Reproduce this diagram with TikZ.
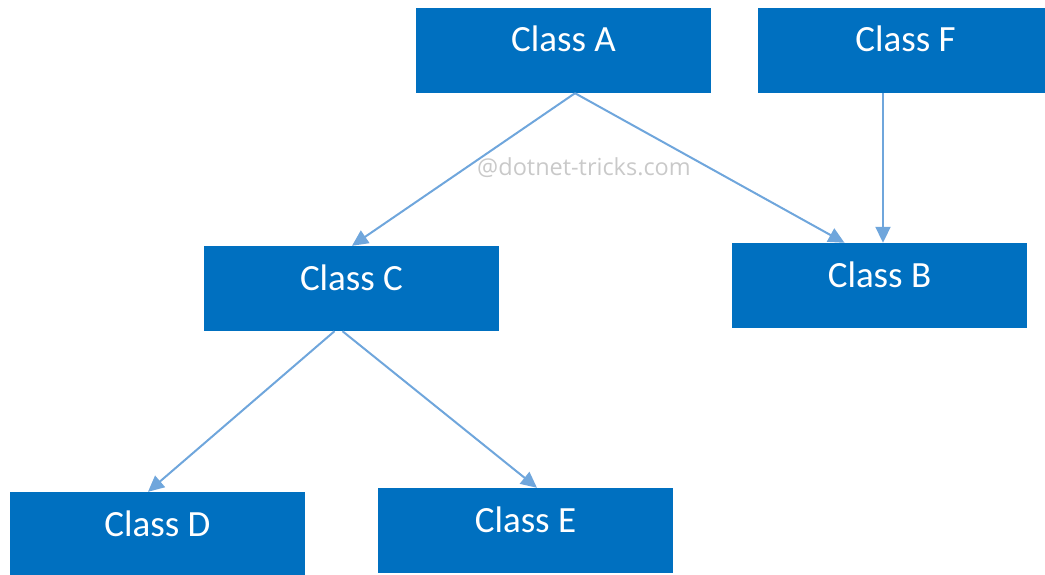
\documentclass[tikz,border=0pt]{standalone}
\usepackage{fontspec}
\setmainfont{Carlito}
\newfontfamily\wmfont{Open Sans}
\usetikzlibrary{arrows.meta}
\definecolor{boxblue}{HTML}{0070C0}
\definecolor{arrblue}{HTML}{6FA6DC}
\definecolor{wmgray}{HTML}{C9C9C9}
\begin{document}
\begin{tikzpicture}[x=1pt,y=-1pt,
  classbox/.style={fill=boxblue, draw=none, inner sep=0pt, minimum width=295pt,
    text height=44pt, text depth=41pt, text=white, font=\fontsize{37}{40}\selectfont},
  conn/.style={draw=arrblue, line width=2pt, -{Triangle[length=16pt,width=15pt]}}]
\useasboundingbox (0,0) rectangle (1045,575);
\clip (0,0) rectangle (1045,575);
\node[classbox] (A) at (563.5,50.5) {Class A};
\node[classbox] (F) at (905.5,50.5) {Class F};
\node[classbox] (C) at (351.5,288.5) {Class C};
\node[classbox] (B) at (879.5,285.5) {Class B};
\node[classbox] (D) at (157.5,534.5) {Class D};
\node[classbox] (E) at (525.5,530.5) {Class E};
\node[text=wmgray, font=\wmfont\fontsize{23.5}{26}\selectfont] (wm) at (584,168) {@dotnet-tricks.com};
\draw[conn] ([xshift=11.5pt]A.south) -- ([xshift=0.5pt]C.north);
\draw[conn] ([xshift=11.5pt]A.south) -- ([xshift=-35pt]B.north);
\draw[conn] ([xshift=-22.5pt]F.south) -- ([xshift=3.5pt]B.north);
\draw[conn] ([xshift=-17pt]C.south) -- ([xshift=-9.5pt]D.north);
\draw[conn] ([xshift=-9pt]C.south) -- ([xshift=11.5pt]E.north);
\end{tikzpicture}
\end{document}
